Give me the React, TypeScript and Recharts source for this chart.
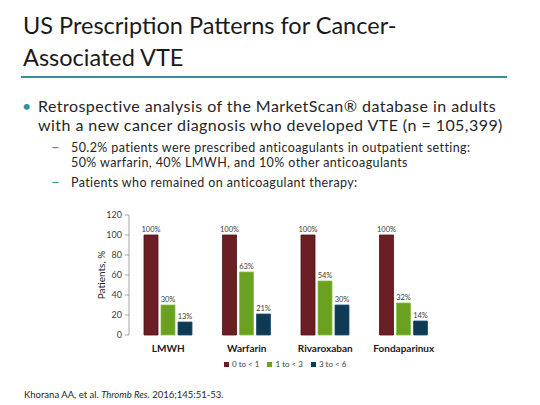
import { BarChart, Bar, XAxis, YAxis, Legend, LabelList } from "recharts";

const drugs = ["LMWH", "Warfarin", "Rivaroxaban", "Fondaparinux"];
const year0to1 = [100, 100, 100, 100];
const year1to3 = [30, 63, 54, 32];
const year3to6 = [13, 21, 30, 14];
const yTicks = [0, 20, 40, 60, 80, 100, 120];
const boundaryTicks = [0, 1, 2, 3, 4];

const data = drugs.map((name, i) => ({
    name,
    a: year0to1[i],
    b: year1to3[i],
    c: year3to6[i],
    pos: i + 0.5
}));

const FONT = "Lato, 'Open Sans', sans-serif";
const TEAL = "#2f8f9d";
const TEXT = "#262626";

const pct = (v: number) => `${v}%`;

// compact legend like the office chart: small square + grey text
const renderLegend = (props: any) => (
    <div style={{ display: "flex", paddingLeft: 144, paddingTop: 5, fontSize: 8, lineHeight: "9px", color: "#404040" }}>
        {props.payload.map((entry: any) => (
            <span key={entry.value} style={{ display: "inline-flex", alignItems: "center", marginRight: 8 }}>
                <span style={{ display: "inline-block", width: 5, height: 5, background: entry.color, marginRight: 3 }} />
                {entry.value}
            </span>
        ))}
    </div>
);

const App = () => {
    return (
        <div
            style={{
                position: "absolute",
                left: 0,
                top: 0,
                width: 540,
                height: 405,
                background: "#fff",
                fontFamily: FONT,
                color: "#1a1a1a",
                overflow: "hidden"
            }}
        >
            {/* title */}
            <div style={{ position: "absolute", left: 23, top: 9, fontSize: 23.5, lineHeight: "32px", whiteSpace: "nowrap" }}>
                US Prescription Patterns for Cancer-
                <br />
                Associated VTE
            </div>
            <div style={{ position: "absolute", left: 21, top: 76, width: 486, height: 1.5, background: TEAL }} />

            {/* bullets */}
            <div style={{ position: "absolute", left: 22, top: 96, fontSize: 16, lineHeight: "19.2px", color: TEAL }}>•</div>
            <div style={{ position: "absolute", left: 38, top: 96, fontSize: 16, lineHeight: "19.2px", letterSpacing: 0.45, color: TEXT, whiteSpace: "nowrap" }}>
                Retrospective analysis of the MarketScan® database in adults
                <br />
                with a new cancer diagnosis who developed VTE (n = 105,399)
            </div>

            <div style={{ position: "absolute", left: 51, top: 138.7, fontSize: 15, lineHeight: "15px", color: TEAL }}>–</div>
            <div style={{ position: "absolute", left: 71, top: 139.7, fontSize: 12.5, lineHeight: "15px", letterSpacing: 0.4, color: TEXT, whiteSpace: "nowrap" }}>
                50.2% patients were prescribed anticoagulants in outpatient setting:
                <br />
                50% warfarin, 40% LMWH, and 10% other anticoagulants
            </div>
            <div style={{ position: "absolute", left: 51, top: 173.7, fontSize: 15, lineHeight: "15px", color: TEAL }}>–</div>
            <div style={{ position: "absolute", left: 71, top: 174.7, fontSize: 12.5, lineHeight: "15px", letterSpacing: 0.4, color: TEXT, whiteSpace: "nowrap" }}>
                Patients who remained on anticoagulant therapy:
            </div>

            {/* citation */}
            <div style={{ position: "absolute", left: 24, top: 389.5, fontSize: 9.5, lineHeight: "9.5px", color: TEXT, whiteSpace: "nowrap" }}>
                Khorana AA, et al. <i>Thromb Res.</i> 2016;145:51-53.
            </div>

            <div style={{ position: "absolute", left: 80, top: 200 }}>
                <BarChart
                    width={420}
                    height={170}
                    data={data}
                    margin={{ top: 15, right: 57, bottom: 0, left: 10 }}
                    barSize={14}
                    barGap={3}
                    style={{ fontFamily: FONT }}
                >
                    <XAxis
                        xAxisId="edges"
                        type="number"
                        dataKey="pos"
                        domain={[0, 4]}
                        ticks={boundaryTicks}
                        height={0}
                        tick={false}
                        tickLine={{ stroke: "#a6a6a6" }}
                        tickSize={3}
                        axisLine={{ stroke: "#a6a6a6" }}
                    />
                    <XAxis
                        dataKey="name"
                        height={20}
                        axisLine={false}
                        tickLine={false}
                        tick={{ fontSize: 10, fontWeight: 700, fill: "#1a1a1a" }}
                        tickMargin={4}
                    />
                    <YAxis
                        width={39}
                        domain={[0, 120]}
                        ticks={yTicks}
                        tick={{ fontSize: 9, fill: "#404040" }}
                        tickSize={4}
                        tickMargin={3}
                        tickLine={{ stroke: "#a6a6a6" }}
                        axisLine={{ stroke: "#a6a6a6" }}
                        label={{
                            value: "Patients, %",
                            angle: -90,
                            position: "insideLeft",
                            offset: 11,
                            style: { textAnchor: "middle", fontSize: 10, fill: TEXT }
                        }}
                    />
                    <Legend
                        verticalAlign="bottom"
                        height={15}
                        content={renderLegend}
                        wrapperStyle={{ left: 0, width: 420 }}
                    />
                    <Bar dataKey="a" name="0 to < 1" fill="#6b1f24" stroke="#4e1216" strokeWidth={0.8} isAnimationActive={false}>
                        <LabelList dataKey="a" position="top" offset={3} formatter={pct} style={{ fontSize: 7.5, fill: "#404040" }} />
                    </Bar>
                    <Bar dataKey="b" name="1 to < 3" fill="#6aa121" stroke="#8cc04a" strokeWidth={0.8} isAnimationActive={false}>
                        <LabelList dataKey="b" position="top" offset={3} formatter={pct} style={{ fontSize: 7.5, fill: "#404040" }} />
                    </Bar>
                    <Bar dataKey="c" name="3 to < 6" fill="#0e3a56" stroke="#1d5070" strokeWidth={0.8} isAnimationActive={false}>
                        <LabelList dataKey="c" position="top" offset={3} formatter={pct} style={{ fontSize: 7.5, fill: "#404040" }} />
                    </Bar>
                </BarChart>
            </div>
        </div>
    );
};

export default App;
